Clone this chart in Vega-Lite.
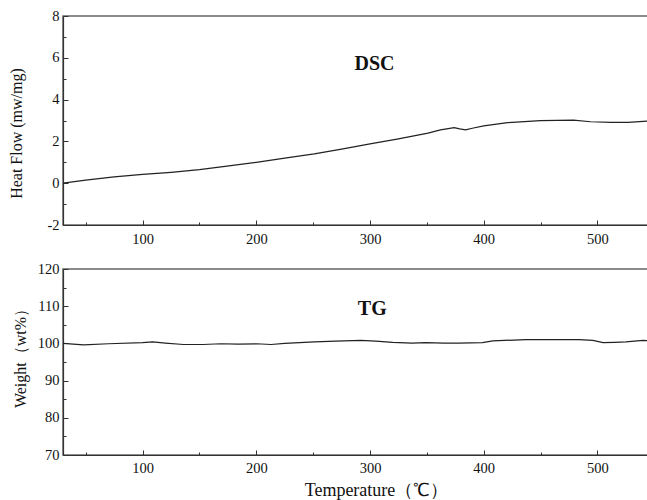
{
  "$schema": "https://vega.github.io/schema/vega-lite/v6.json",
  "padding": {"left": 7, "top": 7, "right": 0, "bottom": 0},
  "spacing": 11,
  "config": {
    "font": "Liberation Serif",
    "view": {"stroke": "#666", "strokeWidth": 1.5},
    "axis": {
      "domainColor": "#333", "domainWidth": 1.2,
      "tickColor": "#333", "tickWidth": 1, "tickSize": -4, "tickCount": 30,
      "labelFont": "Liberation Serif", "labelFontSize": 14.5, "labelColor": "#111",
      "labelOverlap": false, "format": "d",
      "titleFont": "Liberation Serif", "titleFontSize": 16, "titleFontWeight": "normal", "titleColor": "#111",
      "grid": false
    }
  },
  "datasets": {
    "dsc": [
      {"T": 30, "hf": 0.0}, {"T": 50, "hf": 0.15}, {"T": 75, "hf": 0.3}, {"T": 100, "hf": 0.42},
      {"T": 125, "hf": 0.52}, {"T": 150, "hf": 0.65}, {"T": 169, "hf": 0.78}, {"T": 200, "hf": 1.0},
      {"T": 225, "hf": 1.2}, {"T": 251, "hf": 1.4}, {"T": 275, "hf": 1.63}, {"T": 300, "hf": 1.88},
      {"T": 325, "hf": 2.12}, {"T": 351, "hf": 2.4}, {"T": 362, "hf": 2.55}, {"T": 374, "hf": 2.66},
      {"T": 379, "hf": 2.6}, {"T": 384, "hf": 2.55}, {"T": 390, "hf": 2.63}, {"T": 400, "hf": 2.74},
      {"T": 421, "hf": 2.9}, {"T": 450, "hf": 2.99}, {"T": 479, "hf": 3.02}, {"T": 494, "hf": 2.94},
      {"T": 512, "hf": 2.91}, {"T": 527, "hf": 2.91}, {"T": 548, "hf": 2.99}
    ],
    "tg": [
      {"T": 30, "w": 100.0}, {"T": 48, "w": 99.6}, {"T": 70, "w": 99.9}, {"T": 100, "w": 100.2},
      {"T": 109, "w": 100.4}, {"T": 120, "w": 100.1}, {"T": 136, "w": 99.7}, {"T": 153, "w": 99.7},
      {"T": 169, "w": 99.9}, {"T": 184, "w": 99.8}, {"T": 200, "w": 99.9}, {"T": 213, "w": 99.7},
      {"T": 225, "w": 100.0}, {"T": 251, "w": 100.4}, {"T": 270, "w": 100.6}, {"T": 292, "w": 100.8},
      {"T": 305, "w": 100.6}, {"T": 320, "w": 100.3}, {"T": 337, "w": 100.1}, {"T": 349, "w": 100.2},
      {"T": 365, "w": 100.1}, {"T": 378, "w": 100.1}, {"T": 399, "w": 100.2}, {"T": 408, "w": 100.7},
      {"T": 437, "w": 101.0}, {"T": 460, "w": 101.0}, {"T": 484, "w": 101.0}, {"T": 496, "w": 100.8},
      {"T": 505, "w": 100.2}, {"T": 515, "w": 100.3}, {"T": 525, "w": 100.4}, {"T": 540, "w": 100.8},
      {"T": 548, "w": 100.7}
    ]
  },
  "vconcat": [
    {
      "width": 589, "height": 209,
      "layer": [
        {
          "data": {"name": "dsc"},
          "mark": {"type": "line", "color": "#222", "strokeWidth": 1.2, "clip": true},
          "encoding": {
            "x": {"field": "T", "type": "quantitative",
              "scale": {"domain": [30, 548], "nice": false, "zero": false},
              "axis": {"title": null, "values": [50,100,150,200,250,300,350,400,450,500],
                "format": "d",
                "labelExpr": "datum.value % 100 === 0 ? datum.label : ''",
                "tickSize": {"condition": {"test": "datum.value % 100 === 0", "value": -5}, "value": -3},
                "tickCount": 30, "labelOverlap": false, "labelPadding": 12}},
            "y": {"field": "hf", "type": "quantitative",
              "scale": {"domain": [-2, 8], "nice": false, "zero": false},
              "axis": {"title": "Heat Flow (mw/mg)", "values": [-2,-1,0,1,2,3,4,5,6,7,8],
                "format": "d",
                "labelExpr": "datum.value % 2 === 0 ? replace(datum.label, '−', '-') : ''",
                "tickSize": {"condition": {"test": "datum.value % 2 === 0", "value": -5}, "value": -3},
                "tickCount": 30, "labelOverlap": false, "labelPadding": 9, "titleX": -39, "titleY": 117}}
          }
        },
        {
          "data": {"values": [{"T": 304, "hf": 5.7, "label": "DSC"}]},
          "mark": {"type": "text", "font": "Liberation Serif", "fontWeight": "bold", "fontSize": 20, "color": "#111"},
          "encoding": {
            "x": {"field": "T", "type": "quantitative"},
            "y": {"field": "hf", "type": "quantitative"},
            "text": {"field": "label"}
          }
        }
      ]
    },
    {
      "width": 589, "height": 186,
      "layer": [
        {
          "data": {"name": "tg"},
          "mark": {"type": "line", "color": "#222", "strokeWidth": 1.2, "clip": true},
          "encoding": {
            "x": {"field": "T", "type": "quantitative",
              "scale": {"domain": [30, 548], "nice": false, "zero": false},
              "axis": {"title": "Temperature（℃）", "values": [50,100,150,200,250,300,350,400,450,500],
                "format": "d",
                "labelExpr": "datum.value % 100 === 0 ? datum.label : ''",
                "tickSize": {"condition": {"test": "datum.value % 100 === 0", "value": -5}, "value": -3},
                "tickCount": 30, "labelOverlap": false, "labelPadding": 11, "titleX": 313, "titlePadding": 5, "titleFontSize": 18}},
            "y": {"field": "w", "type": "quantitative",
              "scale": {"domain": [70, 120], "nice": false, "zero": false},
              "axis": {"title": "Weight（wt%）", "values": [70,75,80,85,90,95,100,105,110,115,120],
                "format": "d",
                "labelExpr": "datum.value % 10 === 0 ? datum.label : ''",
                "tickSize": {"condition": {"test": "datum.value % 10 === 0", "value": -5}, "value": -3},
                "tickCount": 30, "labelOverlap": false, "labelPadding": 9, "titleX": -35, "titleY": 85}}
          }
        },
        {
          "data": {"values": [{"T": 302, "w": 109.2, "label": "TG"}]},
          "mark": {"type": "text", "font": "Liberation Serif", "fontWeight": "bold", "fontSize": 20, "color": "#111"},
          "encoding": {
            "x": {"field": "T", "type": "quantitative"},
            "y": {"field": "w", "type": "quantitative"},
            "text": {"field": "label"}
          }
        }
      ]
    }
  ]
}
